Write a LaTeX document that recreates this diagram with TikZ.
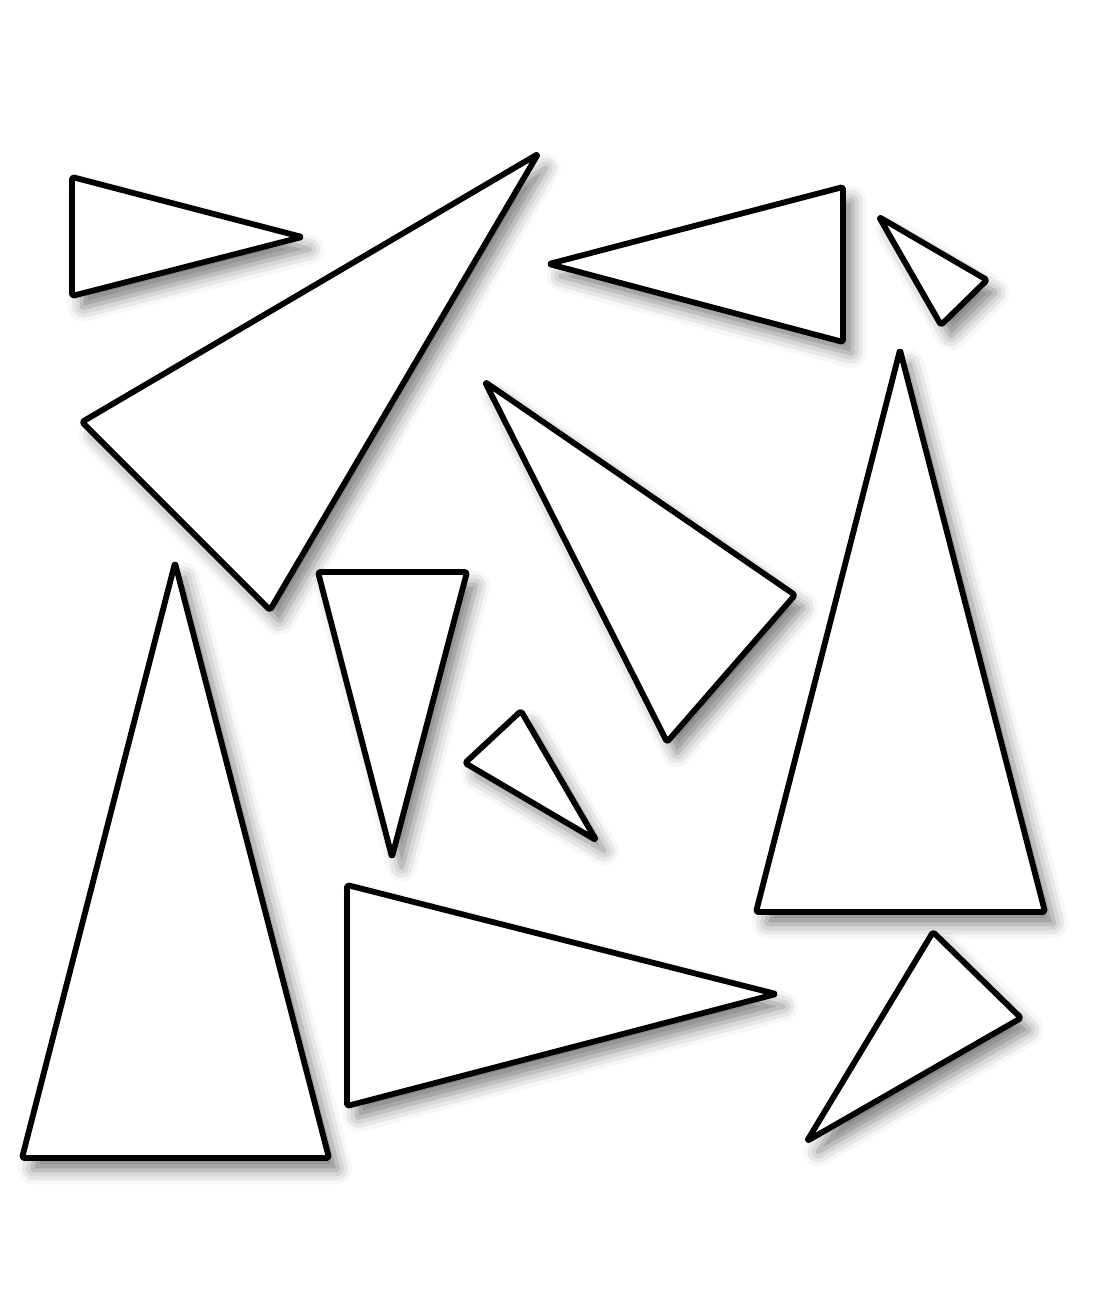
\documentclass[tikz,border=0pt]{standalone}
\usetikzlibrary{shadows.blur}

\begin{document}
\begin{tikzpicture}[x=0.02cm, y=-0.02cm,
   tri/.style={draw=black, fill=white, line width=3.3pt, line join=round, rounded corners=1pt,
     blur shadow={shadow xshift=5.5pt, shadow yshift=-7pt, shadow blur radius=8pt, shadow opacity=50}}]
   \useasboundingbox (0,0) rectangle (1110,1304);
   % top row
   \draw[tri] (72,177) -- (302,237) -- (72,296) -- cycle;
   \draw[tri] (82,422) -- (538,154) -- (270,610) -- cycle;
   \draw[tri] (549,264) -- (843,187) -- (843,342) -- cycle;
   \draw[tri] (879,217) -- (987,280) -- (941,325) -- cycle;
   % middle
   \draw[tri] (485,382) -- (795,595) -- (667,742) -- cycle;
   \draw[tri] (900,350) -- (1045,912) -- (756,912) -- cycle;
   \draw[tri] (318,572) -- (467,572) -- (392,857) -- cycle;
   \draw[tri] (465,763) -- (521,711) -- (596,840) -- cycle;
   % bottom
   \draw[tri] (175,563) -- (329,1158) -- (22,1158) -- cycle;
   \draw[tri] (347,885) -- (776,994) -- (347,1106) -- cycle;
   \draw[tri] (933,932) -- (1021,1018) -- (807,1141) -- cycle;
\end{tikzpicture}
\end{document}
